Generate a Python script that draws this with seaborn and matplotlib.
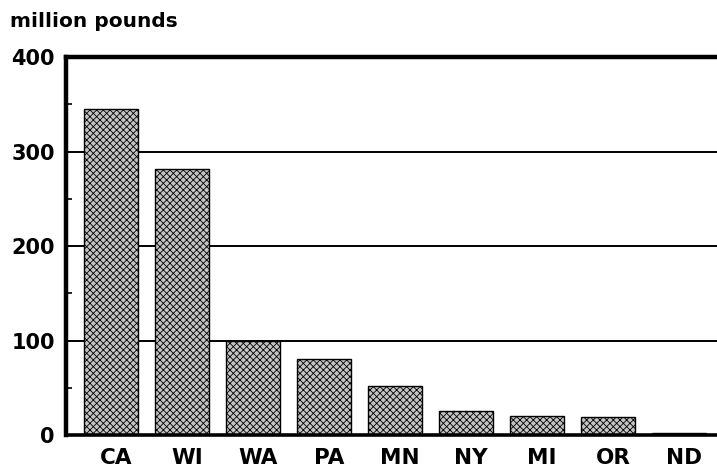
import pandas as pd
import numpy as np
import matplotlib.pyplot as plt
import matplotlib.transforms as mtrans
from matplotlib.ticker import MultipleLocator
import seaborn as sns

states = ['CA', 'WI', 'WA', 'PA', 'MN', 'NY', 'MI', 'OR', 'ND']
pounds = [345, 282, 99, 80, 52, 25, 20, 19, 2]

df = pd.DataFrame({'state': states, 'pounds': pounds})

sns.set_style('white')
plt.rcParams['font.family'] = ['DejaVu Sans']
plt.rcParams['hatch.linewidth'] = 0.6
plt.rcParams['text.color'] = 'black'
plt.rcParams['xtick.color'] = 'black'
plt.rcParams['ytick.color'] = 'black'

fig = plt.figure(figsize=(7.17, 4.68), dpi=100)
ax = fig.add_axes([0.092, 0.0705, 0.908, 0.8077])

# horizontal rules behind the bars
for v in [100, 200, 300]:
    ax.axhline(v, color='black', lw=1.4, zorder=0)

sns.barplot(data=df, x='state', y='pounds', color='#c4c4c4', width=0.76,
            edgecolor='black', linewidth=1.0, hatch='xxxxx', ax=ax, zorder=2)

ax.set_xlim(-0.634, 8.535)
ax.set_ylim(0, 400)
ax.set_yticks([0, 100, 200, 300, 400])
ax.yaxis.set_minor_locator(MultipleLocator(50))
ax.tick_params(axis='y', which='major', length=0, pad=8, labelcolor='black')
ax.tick_params(axis='y', which='minor', direction='in', length=4, width=1.2,
               left=True, color='black')
ax.tick_params(axis='x', length=0, pad=9, labelcolor='black')
for lab in ax.get_yticklabels():
    lab.set_fontsize(15)
    lab.set_fontweight('bold')
# state labels sit a little right of the bar centres in the original
shift = mtrans.ScaledTranslation(5 / 100, 0, fig.dpi_scale_trans)
for lab in ax.get_xticklabels():
    lab.set_fontsize(15.5)
    lab.set_fontweight('bold')
    lab.set_transform(lab.get_transform() + shift)

ax.set_xlabel('')
ax.set_ylabel('')
for s in ['left', 'top', 'bottom']:
    ax.spines[s].set_visible(True)
    ax.spines[s].set_color('black')
ax.spines['left'].set_linewidth(3.2)
ax.spines['top'].set_linewidth(3.2)
ax.spines['bottom'].set_linewidth(2.6)
ax.spines['right'].set_visible(False)

fig.text(0.014, 0.955, 'million pounds', fontsize=14.5, fontweight='bold',
         ha='left', va='center', color='black')

fig.savefig('out.png', dpi=100)
